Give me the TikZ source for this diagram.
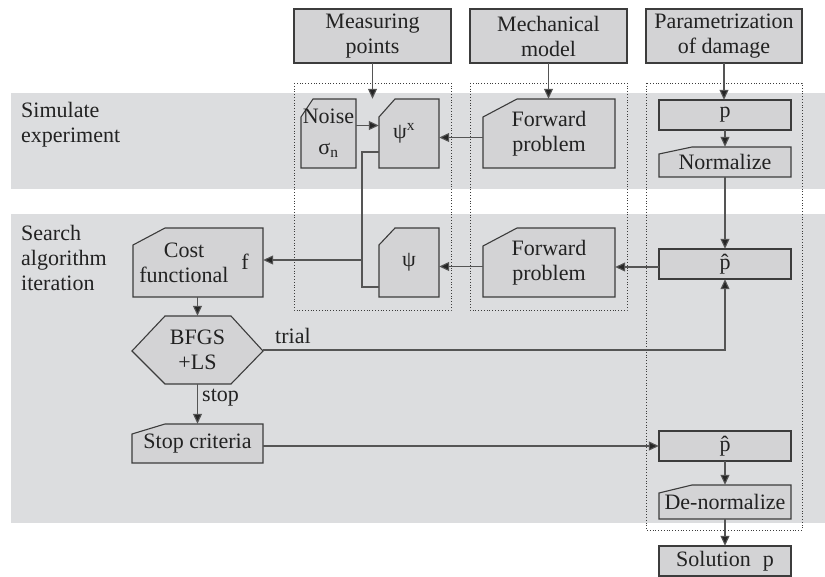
\documentclass[tikz,border=0pt]{standalone}
\usepackage{fontspec}
\setmainfont{Liberation Serif}
\usetikzlibrary{arrows.meta}
\definecolor{band}{HTML}{DCDDDF}
\definecolor{boxfill}{HTML}{D3D3D5}
\definecolor{ln}{HTML}{3C3C3C}
\definecolor{conn}{HTML}{555555}
\definecolor{txt}{HTML}{222222}
\newcommand\plainbox[6]{%
  \filldraw[boxpath] (#2,#3) rectangle (#4,#5);
  \node[lab, minimum width={(#4-#2)*1pt}, minimum height={(#5-#3)*1pt}] (#1) at ({(#2+#4)/2},{(#3+#5)/2}) {#6};}
\newcommand\cutbox[8]{%
  \filldraw[boxpath] (#2,{#3+#7}) -- ({#2+#6},#3) -- (#4,#3) -- (#4,#5) -- (#2,#5) -- cycle;
  \node[lab, minimum width={(#4-#2)*1pt}, minimum height={(#5-#3)*1pt}] (#1) at ({(#2+#4)/2},{(#3+#5)/2}) {#8};}
\begin{document}
\begin{tikzpicture}[x=1pt,y=-1pt,
  every node/.style={font=\fontsize{22}{25}\selectfont, text=txt, inner sep=0pt},
  boxpath/.style={fill=boxfill, draw=ln, line width=1.1pt},
  lab/.style={align=center},
  arr/.style={draw=conn, line width=1.1pt, -{Triangle[length=10pt,width=9pt,fill=black!85]}},
  ln2/.style={draw=conn, line width=1.1pt},
  dotbox/.style={draw=ln, dotted, line width=0.8pt}
]
\useasboundingbox (0,0) rectangle (825,577);
% bands
\fill[band] (11,93) rectangle (825,189);
\fill[band] (11,214) rectangle (825,523);
% dotted groups
\draw[dotbox] (294,83) rectangle (451,310);
\draw[dotbox] (470,83) rectangle (627,310);
\draw[dotbox] (646,83) rectangle (802,530);
% band labels
\node[anchor=west, align=left] (simlab) at (21,125) {Simulate\\experiment};
\node[anchor=west, align=left] (searchlab) at (21,258) {Search\\algorithm\\iteration};
% top boxes
\plainbox{mp}{294}{9}{451}{63}{Measuring\\points}
\plainbox{mm}{470}{9}{627}{63}{Mechanical\\model}
\plainbox{pd}{646}{9}{802}{63}{Parametrization\\of damage}
% simulate experiment row
\cutbox{noise}{301}{99}{356}{168}{12}{18}{Noise\\[6pt]σ\textsubscript{n}}
\cutbox{psix}{379}{99}{439}{168}{16}{18}{ψ\textsuperscript{x}\hspace{10pt}}
\cutbox{fp1}{483}{99}{615}{168}{34}{18}{Forward\\problem}
\plainbox{p1}{659}{100}{791}{130}{p}
\cutbox{norm}{659}{147}{791}{177}{33}{7}{Normalize}
% search row
\cutbox{cost}{133}{228}{263}{297}{32}{17}{}
\node[align=center] (costtxt) at (184,263) {Cost\\functional};
\node (costf) at (245,262) {f};
\cutbox{psi}{379}{228}{439}{297}{16}{17}{ψ}
\cutbox{fp2}{483}{228}{615}{297}{34}{18}{Forward\\problem}
\plainbox{ph1}{659}{249}{791}{279}{\^{p}}
% BFGS hexagon
\filldraw[boxpath] (132,351)--(165,316)--(231,316)--(263,351)--(231,384)--(165,384)--cycle;
\node[lab, minimum width=131pt, minimum height=68pt] (bfgs) at (197.5,350) {BFGS\\+LS};
\cutbox{stop}{132}{424}{263}{463}{33}{10}{Stop criteria}
\plainbox{ph2}{659}{431}{791}{461}{\^{p}}
\cutbox{denorm}{659}{485}{791}{519}{33}{8}{De-normalize}
\plainbox{sol}{659}{546}{791}{576}{Solution\hspace{12pt}p}
% junction coordinates
\coordinate (jtop) at (362,152);
\coordinate (jbot) at (362,287);
\coordinate (jn) at (362,260);
% connectors
\draw[arr] (mp.south) -- (mp.south |- psix.north);
\draw[arr] (mm.south) -- (mm.south |- fp1.north);
\draw[arr] (pd.south) -- (pd.south |- p1.north);
\draw[arr] (p1.south) -- (norm.north);
\draw[arr] (norm.south) -- (ph1.north);
\draw[arr] ([yshift=8pt]noise.east) -- ([yshift=8pt]noise.east -| psix.west);
\draw[arr] ([yshift=-4pt]fp1.west) -- ([yshift=-4pt]fp1.west -| psix.east);
\draw[arr] ([yshift=-3pt]ph1.west) -- ([yshift=-3pt]ph1.west -| fp2.east);
\draw[arr] ([yshift=-4pt]fp2.west) -- ([yshift=-4pt]fp2.west -| psi.east);
\draw[ln2] (psix.west |- jtop) -- (jtop) -- (jbot) -- (psi.west |- jbot);
\draw[arr] (jn) -- (jn -| cost.east);
\draw[arr] (bfgs.north |- cost.south) -- (bfgs.north);
\draw[arr] (bfgs.south) -- (bfgs.south |- stop.north);
\node[anchor=west] (stoplab) at (202,398) {stop};
\draw[arr] (bfgs.east) -- (bfgs.east -| ph1.south) -- (ph1.south);
\node[anchor=west] (triallab) at (275,336) {trial};
\draw[arr] (stop.east |- ph2.west) -- (ph2.west);
\draw[arr] (ph2.south) -- (denorm.north);
\draw[arr] (denorm.south) -- (sol.north);
\end{tikzpicture}
\end{document}
